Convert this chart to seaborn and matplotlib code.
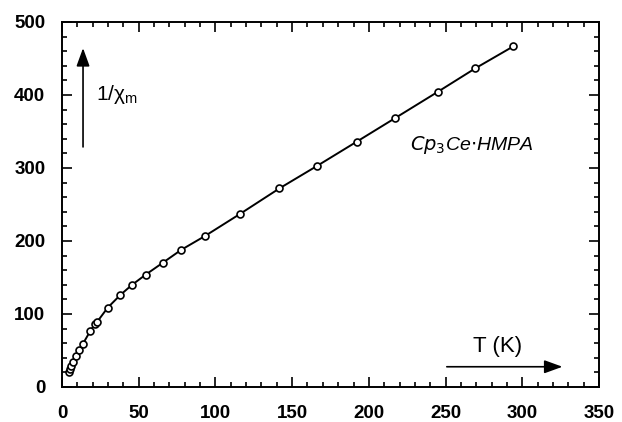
import matplotlib
matplotlib.use('Agg')
import matplotlib.pyplot as plt
import seaborn as sns
import pandas as pd
from matplotlib.ticker import MultipleLocator

# data: temperature (K) and 1/chi_m
temp = [4.4, 5.2, 6.1, 7.4, 9.3, 11.1, 13.7, 18.3, 21.5, 23.0, 29.8, 38.0,
        45.4, 54.5, 65.8, 77.6, 93.2, 116.0, 141.7, 166.4, 192.1, 216.9,
        245.1, 269.5, 294.2]
inv_chi = [20.0, 24.7, 28.8, 34.7, 43.0, 50.7, 59.4, 76.2, 86.5, 89.5, 108.7,
           126.0, 139.5, 153.8, 170.3, 187.7, 206.8, 237.0, 272.0, 303.0,
           336.0, 368.0, 404.5, 436.6, 466.6]

x_ticks = [0, 50, 100, 150, 200, 250, 300, 350]
y_ticks = [0, 100, 200, 300, 400, 500]

df = pd.DataFrame({'T': temp, 'inv_chi': inv_chi})

sns.set_style('ticks')
plt.rcParams['font.family'] = ['Liberation Sans', 'DejaVu Sans']
plt.rcParams.update({'text.color': 'black', 'axes.edgecolor': 'black',
                     'xtick.color': 'black', 'ytick.color': 'black',
                     'axes.labelcolor': 'black'})

fig = plt.figure(figsize=(6.22, 4.22), dpi=100)
ax = fig.add_axes([0.0997, 0.083, 0.8633, 0.865])

sns.lineplot(data=df, x='T', y='inv_chi', ax=ax, color='black', linewidth=1.4,
             marker='o', markersize=5, markerfacecolor='white',
             markeredgecolor='black', markeredgewidth=1.2)

ax.set_xlim(0, 350)
ax.set_ylim(0, 500)
ax.set_xticks(x_ticks)
ax.set_yticks(y_ticks)
ax.xaxis.set_minor_locator(MultipleLocator(10))
ax.yaxis.set_minor_locator(MultipleLocator(20))
ax.tick_params(which='both', direction='in', top=True, right=True,
               width=1.2, labelsize=13.5, color='black', labelcolor='black')
ax.tick_params(axis='y', pad=12)
ax.tick_params(axis='x', pad=13)
ax.tick_params(which='major', length=7)
ax.tick_params(which='minor', length=3.6)
for lab in ax.get_xticklabels() + ax.get_yticklabels():
    lab.set_fontweight('bold')
for sp in ax.spines.values():
    sp.set_linewidth(1.4)
    sp.set_color('black')
ax.set_xlabel('')
ax.set_ylabel('')

# annotations
arrow = dict(arrowstyle='-|>,head_length=1.1,head_width=0.4',
             color='black', lw=1.2)
ax.annotate('', xy=(13.7, 468), xytext=(13.7, 325), arrowprops=arrow)
ax.text(22, 400, r'1/$\mathregular{\chi_m}$', fontsize=15, va='center',
        ha='left', color='black')
ax.text(267, 331, r'$Cp_3$Ce$\cdot$HMPA', fontsize=14, style='italic',
        va='center', ha='center', color='black')
ax.annotate('', xy=(328, 27.7), xytext=(249, 27.7), arrowprops=arrow)
ax.text(284, 55, 'T (K)', fontsize=16, va='center', ha='center', color='black')

fig.savefig('out.png', dpi=100)
